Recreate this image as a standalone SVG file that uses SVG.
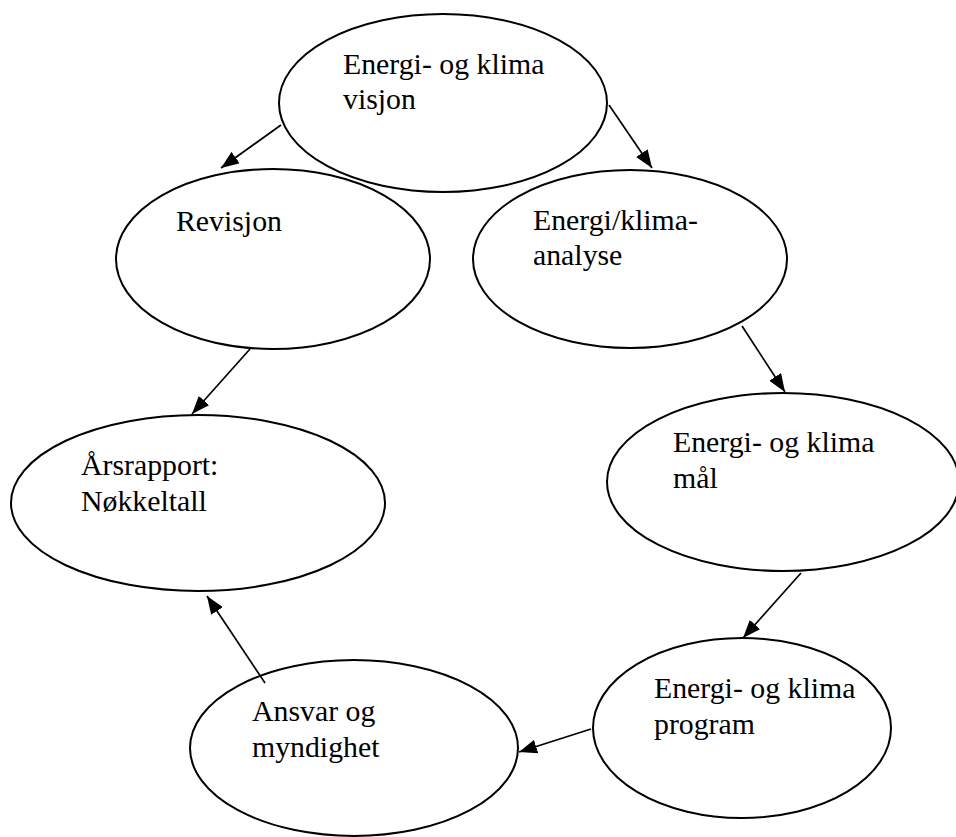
<svg xmlns="http://www.w3.org/2000/svg" width="956" height="837" viewBox="0 0 956 837">
<style>
.n{fill:#fff;stroke:#000;stroke-width:2}
.t{font-family:'Liberation Serif','Times New Roman',serif;font-size:29.8px;fill:#000}
.c{stroke:#000;stroke-width:1.7;fill:none}
</style>
<defs>
<marker id="ah" viewBox="0 0 18 14" refX="18" refY="7" markerWidth="18" markerHeight="14" markerUnits="userSpaceOnUse" orient="auto">
<path d="M0,0 L18,7 L0,14 z" fill="#000"/>
</marker>
</defs>
<rect width="956" height="837" fill="#fff"/>
<g id="visjon"><ellipse class="n" cx="443" cy="103" rx="164" ry="89"/><text class="t" x="343" y="74">Energi- og klima</text><text class="t" x="343" y="109">visjon</text></g>
<g id="revisjon"><ellipse class="n" cx="273" cy="259" rx="157" ry="90"/><text class="t" x="176" y="231">Revisjon</text></g>
<g id="analyse"><ellipse class="n" cx="630" cy="259" rx="157" ry="89"/><text class="t" x="533" y="230">Energi/klima-</text><text class="t" x="533" y="265">analyse</text></g>
<g id="maal"><ellipse class="n" cx="783" cy="482" rx="176" ry="89"/><text class="t" x="673" y="452">Energi- og klima</text><text class="t" x="673" y="488">mål</text></g>
<g id="aarsrapport"><ellipse class="n" cx="198" cy="503" rx="187" ry="88"/><text class="t" x="81" y="475">Årsrapport:</text><text class="t" x="81" y="511">Nøkkeltall</text></g>
<g id="program"><ellipse class="n" cx="742" cy="728" rx="149" ry="90"/><text class="t" x="654" y="698">Energi- og klima</text><text class="t" x="654" y="734">program</text></g>
<g id="ansvar"><ellipse class="n" cx="354" cy="748" rx="164" ry="88"/><text class="t" x="252" y="721">Ansvar og</text><text class="t" x="252" y="757">myndighet</text></g>
<g id="connectors">
<line class="c" marker-end="url(#ah)" x1="281" y1="125" x2="221" y2="168"/>
<line class="c" marker-end="url(#ah)" x1="609" y1="105" x2="652" y2="168"/>
<line class="c" marker-end="url(#ah)" x1="742" y1="326" x2="785" y2="392"/>
<line class="c" marker-end="url(#ah)" x1="801" y1="573" x2="743" y2="638"/>
<line class="c" marker-end="url(#ah)" x1="591" y1="729" x2="519" y2="752"/>
<line class="c" marker-end="url(#ah)" x1="265" y1="683" x2="207" y2="596"/>
<line class="c" marker-end="url(#ah)" x1="250" y1="349" x2="192" y2="414"/>
</g>
</svg>
